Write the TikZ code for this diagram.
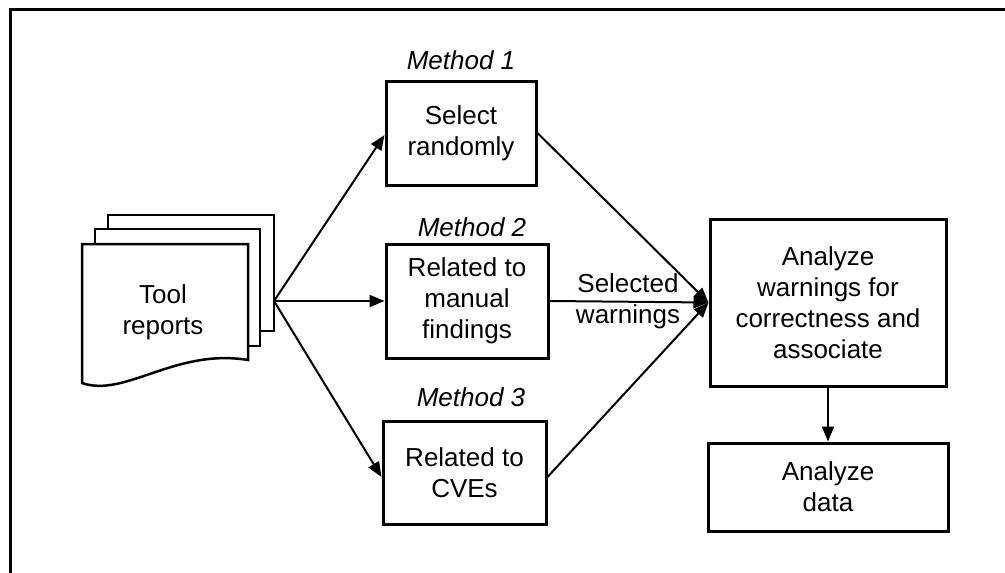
\documentclass[tikz,border=0pt]{standalone}
\usepackage{fontspec}
\setmainfont{Liberation Sans}
\usetikzlibrary{arrows.meta,calc}
\begin{document}
\begin{tikzpicture}[x=1pt,y=-1pt,
  every node/.style={font=\fontsize{26}{31}\selectfont, align=center, inner sep=0pt},
  box/.style={draw, line width=3pt},
  lbl/.style={font=\fontsize{26}{31}\selectfont\itshape},
  page/.style={draw, line width=2.5pt, fill=white},
  conn/.style={line width=2pt, -{Triangle[length=15pt,width=12pt]}}]
\useasboundingbox (0,0) rectangle (1005,573);
\draw[line width=3pt] (10,573) -- (10,9) -- (1005,9);
% document stack
\draw[page] (108,215) rectangle (274,331);
\draw[page] (95,229) rectangle (260,346);
\draw[page] (82,244) -- (248,244) -- (248,360) .. controls (175,348) and (125,398) .. (82,383) -- cycle;
\node (doc) at (163,312) {Tool\\reports};
\coordinate (docout) at (274,301);
% method boxes
\node[box, minimum width=150pt, minimum height=104pt] (b1) at (461,133) {Select\\randomly};
\node[box, minimum width=162pt, minimum height=114pt] (b2) at (467,301) {Related to\\manual\\findings};
\node[box, minimum width=163pt, minimum height=103pt] (b3) at (464.5,472.5) {Related to\\CVEs};
\node[lbl] (m1) at (461,60) {Method 1};
\node[lbl] (m2) at (472,227) {Method 2};
\node[lbl] (m3) at (471,397) {Method 3};
% analysis boxes
\node[box, minimum width=236pt, minimum height=167pt] (big) at (828,302.5) {Analyze\\warnings for\\correctness and\\associate};
\node[box, minimum width=240pt, minimum height=88pt] (small) at (828,487) {Analyze\\data};
\node (sel) at (628,301) {Selected\\warnings};
% connectors
\draw[conn] (docout) -- ($(b1.west)+(0,2)$);
\draw[conn] (docout) -- (b2.west);
\draw[conn] (docout) -- ($(b3.west)+(0,4.5)$);
\draw[conn] (b1.east) -- (big.west);
\draw[conn] (b2.east) -- (big.west);
\draw[conn] ($(b3.east)+(0,4.5)$) -- (big.west);
\draw[conn] (big.south) -- (small.north);
\end{tikzpicture}
\end{document}
